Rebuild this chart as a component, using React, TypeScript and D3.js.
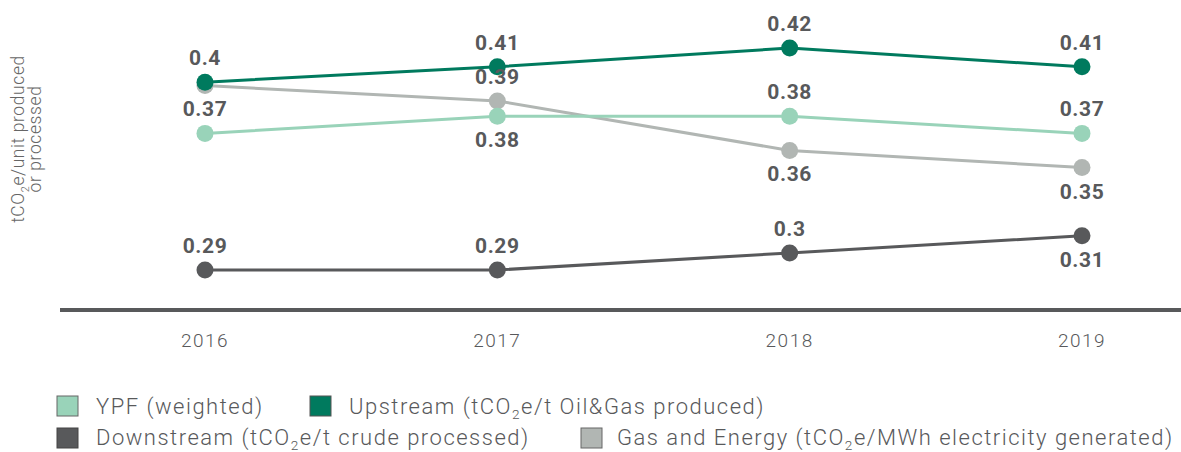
import React from "react"
import * as d3 from "d3"

const years = ["2016", "2017", "2018", "2019"]

const ypf = [0.37, 0.38, 0.38, 0.37]
const upstream = [0.4, 0.409, 0.42, 0.409]
const downstream = [0.29, 0.29, 0.3, 0.31]
const gasEnergy = [0.398, 0.389, 0.36, 0.35]

// label text + placement per point ("a" above, "b" below, "" none)
const ypfLabels = ["0.37", "0.38", "0.38", "0.37"]
const ypfPos = ["a", "b", "a", "a"]
const upLabels = ["0.4", "0.41", "0.42", "0.41"]
const upPos = ["a", "a", "a", "a"]
const downLabels = ["0.29", "0.29", "0.3", "0.31"]
const downPos = ["a", "a", "a", "b"]
const gasLabels = ["", "0.39", "0.36", "0.35"]
const gasPos = ["", "a", "b", "b"]

const W = 1181
const H = 452
const FONT = "Roboto, 'Noto Sans', sans-serif"
const TXT = "#58595b"

const series = [
  { name: "gas", values: gasEnergy, labels: gasLabels, pos: gasPos, color: "#b1b6b3" },
  { name: "ypf", values: ypf, labels: ypfLabels, pos: ypfPos, color: "#99d3b9" },
  { name: "down", values: downstream, labels: downLabels, pos: downPos, color: "#58595b" },
  { name: "up", values: upstream, labels: upLabels, pos: upPos, color: "#007a5e" },
]

// text with a subscript "2" between pre and post
const SubText = ({ pre, post }: { pre: string; post: string }) => (
  <>
    <tspan>{pre}</tspan>
    <tspan dy="5" fontSize="0.62em">2</tspan>
    <tspan dy="-5">{post}</tspan>
  </>
)

export default function App() {
  const x = d3.scalePoint().domain(years).range([205, 1082])
  const y = d3.scaleLinear().domain([0.29, 0.42]).range([270, 48])
  const line = d3
    .line<number>()
    .x((_, i) => x(years[i]) as number)
    .y((d) => y(d))

  const axisY = 310

  return (
    <svg
      width={W}
      height={H}
      style={{ position: "absolute", left: 0, top: 0, background: "#fff" }}
      fontFamily={FONT}
    >
      {/* y axis title */}
      <g transform="translate(24,139) rotate(-90)" fill="#666" fontSize="17.5" textAnchor="middle" fontWeight="300" letterSpacing="0.6">
        <text x="0" y="0">
          <SubText pre="tCO" post="e/unit produced" />
        </text>
        <text x="0" y="17">or processed</text>
      </g>

      {/* lines */}
      {series.map((s) => (
        <path key={s.name} d={line(s.values) || ""} fill="none" stroke={s.color} strokeWidth={3} />
      ))}

      {/* dots */}
      {series.map((s) =>
        s.values.map((v, i) => (
          <circle key={s.name + i} cx={x(years[i])} cy={y(v)} r={8.5} fill={s.color} />
        ))
      )}

      {/* value labels */}
      {series.map((s) =>
        s.values.map((v, i) =>
          s.pos[i] ? (
            <text
              key={"l" + s.name + i}
              x={x(years[i])}
              y={y(v) + (s.pos[i] === "a" ? -17 : 31)}
              textAnchor="middle"
              fontSize="21"
              fontWeight="700"
              letterSpacing="0.6"
              fill={TXT}
            >
              {s.labels[i]}
            </text>
          ) : null
        )
      )}

      {/* x axis */}
      <line x1={60} x2={W} y1={axisY} y2={axisY} stroke="#58595b" strokeWidth={4} />
      {years.map((yr) => (
        <text
          key={yr}
          x={x(yr)}
          y={347}
          textAnchor="middle"
          fontSize="19"
          fontWeight="300"
          letterSpacing="1.5"
          fill={TXT}
        >
          {yr}
        </text>
      ))}

      {/* legend */}
      <g fontSize="22" fill={TXT} fontWeight="300" letterSpacing="1.5">
        <rect x={57} y={396} width={21} height={20} fill="#99d3b9" stroke="#666" strokeWidth={1} />
        <text x={96} y={414}>YPF (weighted)</text>
        <rect x={310} y={396} width={21} height={20} fill="#007a5e" stroke="#555" strokeWidth={1} />
        <text x={349} y={414}>
          <SubText pre="Upstream (tCO" post="e/t Oil&Gas produced)" />
        </text>
        <rect x={57} y={428} width={21} height={20} fill="#58595b" stroke="#444" strokeWidth={1} />
        <text x={96} y={445}>
          <SubText pre="Downstream (tCO" post="e/t crude processed)" />
        </text>
        <rect x={581} y={428} width={21} height={20} fill="#b1b6b3" stroke="#666" strokeWidth={1} />
        <text x={617} y={445}>
          <SubText pre="Gas and Energy (tCO" post="e/MWh electricity generated)" />
        </text>
      </g>
    </svg>
  )
}
